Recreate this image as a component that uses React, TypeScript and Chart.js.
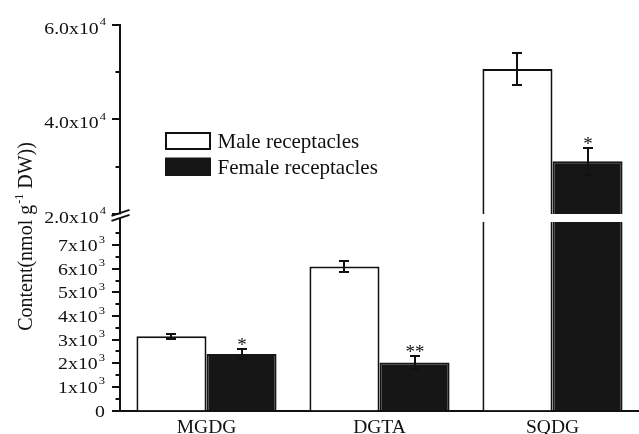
import React, { useEffect, useRef } from 'react';
import { Chart, registerables } from 'chart.js';

Chart.register(...registerables);

// ---------- data ----------
const categories = ['MGDG', 'DGTA', 'SQDG'];
const seriesNames = ['Male receptacles', 'Female receptacles'];
const maleValues = [3150, 6100, 50600];
const maleErrors = [100, 230, 3300];
const femaleValues = [2390, 2030, 31100];
const femaleErrors = [200, 290, 2800];
const femaleMarks = ['*', '**', '*'];

const lowerTickValues = [0, 1000, 2000, 3000, 4000, 5000, 6000, 7000];
const lowerTickLabels = ['0', '1x10³', '2x10³', '3x10³', '4x10³', '5x10³', '6x10³', '7x10³'];
const lowerMinorTicks = [500, 1500, 2500, 3500, 4500, 5500, 6500, 7500];
const upperTickValues = [20000, 40000, 60000];
const upperTickLabels = ['2.0x10⁴', '4.0x10⁴', '6.0x10⁴'];
const upperMinorTicks = [30000, 50000];
const yTitle = 'Content(nmol g⁻¹ DW))';

// axis ranges (lower part 0..lowerMax, upper part upperMin..upperMax)
const lowerMax = 8330;
const upperMin = 20000;
const upperMax = 60000;

// ---------- style ----------
const FONT = '"Liberation Serif", "Times New Roman", serif';
const INK = '#111111';
const FILL_DARK = '#161616';
const GAP = 8;

const SUP = '⁰¹²³⁴⁵⁶⁷⁸⁹⁻';
const NORM = '0123456789-';

function splitRuns(text: string) {
  const runs: { t: string; sup: boolean }[] = [];
  for (const ch of text) {
    const k = SUP.indexOf(ch);
    const sup = k >= 0;
    const c = sup ? NORM[k] : ch;
    const last = runs[runs.length - 1];
    if (last && last.sup === sup) last.t += c;
    else runs.push({ t: c, sup });
  }
  return runs;
}

function drawRich(
  ctx: CanvasRenderingContext2D,
  text: string,
  x: number,
  y: number,
  align: 'left' | 'right' | 'center',
  size: number,
  supSize: number,
  raise: number,
  sx: number,
  supGap: number
) {
  const runs = splitRuns(text);
  const fontFor = (sup: boolean) => `${sup ? supSize : size}px ${FONT}`;
  const widths = runs.map((r) => {
    ctx.font = fontFor(r.sup);
    return ctx.measureText(r.t).width * sx + (r.sup ? supGap : 0);
  });
  const total = widths.reduce((a, b) => a + b, 0);
  let cx = align === 'right' ? x - total : align === 'center' ? x - total / 2 : x;
  ctx.textAlign = 'left';
  ctx.textBaseline = 'alphabetic';
  runs.forEach((r, i) => {
    ctx.save();
    ctx.translate(cx + (r.sup ? supGap : 0), y - (r.sup ? raise : 0));
    ctx.scale(sx, 1);
    ctx.font = fontFor(r.sup);
    ctx.fillText(r.t, 0, 0);
    ctx.restore();
    cx += widths[i];
  });
}

const alignY = (p: number) => Math.round(p - 1) + 1;

const brokenAxisPlugin = {
  id: 'brokenAxis',
  beforeDatasetDraw(chart: any, args: any) {
    const ds = chart.data.datasets[args.index];
    const yTop = chart.scales.yTop;
    const ctx = chart.ctx as CanvasRenderingContext2D;
    ctx.save();
    ctx.beginPath();
    if (ds.yAxisID === 'y') ctx.rect(0, yTop.bottom + GAP, chart.width, chart.height);
    else ctx.rect(0, 0, chart.width, yTop.bottom);
    ctx.clip();
  },
  afterDatasetDraw(chart: any) {
    chart.ctx.restore();
  },
  afterDatasetsDraw(chart: any) {
    const ctx = chart.ctx as CanvasRenderingContext2D;
    const yLow = chart.scales.y;
    const yTop = chart.scales.yTop;
    const pick = (v: number) => (v >= upperMin ? yTop : yLow);
    const series = [
      { values: maleValues, errors: maleErrors, marks: null as string[] | null, ds: 0 },
      { values: femaleValues, errors: femaleErrors, marks: femaleMarks, ds: 1 },
    ];
    ctx.save();
    ctx.strokeStyle = INK;
    ctx.fillStyle = INK;
    ctx.lineWidth = 2;
    series.forEach((s) => {
      const meta = chart.getDatasetMeta(s.ds);
      s.values.forEach((v, i) => {
        const el = meta.data[i];
        if (!el) return;
        const x = Math.round(el.x);
        const sc = pick(v);
        const yHi = alignY(sc.getPixelForValue(v + s.errors[i]));
        const yLo = alignY(sc.getPixelForValue(v - s.errors[i]));
        ctx.beginPath();
        ctx.moveTo(x, yHi);
        ctx.lineTo(x, yLo);
        ctx.moveTo(x - 5, yHi);
        ctx.lineTo(x + 5, yHi);
        ctx.moveTo(x - 5, yLo);
        ctx.lineTo(x + 5, yLo);
        ctx.stroke();
        if (s.marks && s.marks[i]) {
          ctx.font = `19px ${FONT}`;
          ctx.textAlign = 'center';
          ctx.textBaseline = 'alphabetic';
          ctx.fillText(s.marks[i], x, yHi + 2);
        }
      });
    });
    ctx.restore();
  },
  afterDraw(chart: any) {
    const ctx = chart.ctx as CanvasRenderingContext2D;
    const yLow = chart.scales.y;
    const yTop = chart.scales.yTop;
    const area = chart.chartArea;
    const ax = area.left;
    ctx.save();
    ctx.strokeStyle = INK;
    ctx.fillStyle = INK;
    ctx.lineWidth = 2;
    const drawTicks = (scale: any, majors: number[], minors: number[]) => {
      ctx.beginPath();
      majors.forEach((v) => {
        const y = alignY(scale.getPixelForValue(v));
        ctx.moveTo(ax - 8, y);
        ctx.lineTo(ax, y);
      });
      minors.forEach((v) => {
        const y = alignY(scale.getPixelForValue(v));
        ctx.moveTo(ax - 4.5, y);
        ctx.lineTo(ax, y);
      });
      ctx.stroke();
    };
    drawTicks(yTop, upperTickValues, upperMinorTicks);
    drawTicks(yLow, lowerTickValues, lowerMinorTicks);

    // tick labels
    upperTickValues.forEach((v, i) => {
      drawRich(ctx, upperTickLabels[i], ax - 14, yTop.getPixelForValue(v) + 9, 'right', 16.5, 10.5, 8.5, 1.2, 1);
    });
    lowerTickValues.forEach((v, i) => {
      drawRich(ctx, lowerTickLabels[i], ax - 15, yLow.getPixelForValue(v) + 6, 'right', 16.5, 10.5, 8.5, 1.2, 1);
    });

    // axis break marks
    const yb = yTop.bottom;
    ctx.fillStyle = '#ffffff';
    ctx.fillRect(ax - 2, yb + 0.5, 4, 3.5);
    ctx.beginPath();
    ctx.moveTo(ax - 8.5, yb + 2);
    ctx.lineTo(ax + 9.5, yb - 4);
    ctx.moveTo(ax - 8.5, yb + 7);
    ctx.lineTo(ax + 9.5, yb + 1);
    ctx.stroke();

    // y title
    ctx.fillStyle = INK;
    ctx.save();
    ctx.translate(31.5, 236.5);
    ctx.rotate(-Math.PI / 2);
    drawRich(ctx, yTitle, 0, 0, 'center', 20, 12, 9, 1.0, 1);
    ctx.restore();

    // legend
    const lx = ax + 45;
    const ly = area.top + 107.5;
    const bw = 46;
    const bh = 18;
    ctx.fillStyle = '#ffffff';
    ctx.fillRect(lx, ly, bw, bh);
    ctx.strokeStyle = INK;
    ctx.lineWidth = 2;
    ctx.strokeRect(lx + 1, ly + 1, bw - 2, bh - 2);
    ctx.fillStyle = FILL_DARK;
    ctx.fillRect(lx, ly + 25.5, bw, bh + 0.5);
    ctx.fillStyle = INK;
    ctx.font = `21px ${FONT}`;
    ctx.textAlign = 'left';
    ctx.textBaseline = 'alphabetic';
    ctx.fillText(seriesNames[0], lx + 52.5, ly + 16);
    ctx.fillText(seriesNames[1], lx + 52.5, ly + 41.6);
    ctx.restore();
  },
};

export default function App() {
  const ref = useRef<HTMLCanvasElement | null>(null);
  useEffect(() => {
    if (!ref.current) return;
    const barCommon = {
      borderWidth: 2,
      barPercentage: 1,
      categoryPercentage: 0.81,
      borderSkipped: 'start' as const,
    };
    const chart = new Chart(ref.current, {
      type: 'bar',
      data: {
        labels: categories,
        datasets: [
          { ...barCommon, label: seriesNames[0], data: maleValues, yAxisID: 'y', stack: 'male', backgroundColor: '#ffffff', borderColor: INK },
          { ...barCommon, label: seriesNames[1], data: femaleValues, yAxisID: 'y', stack: 'female', backgroundColor: FILL_DARK, borderColor: FILL_DARK },
          { ...barCommon, label: seriesNames[0], data: maleValues.map((v) => (v >= upperMin ? v : null)), yAxisID: 'yTop', stack: 'male', backgroundColor: '#ffffff', borderColor: INK },
          { ...barCommon, label: seriesNames[1], data: femaleValues.map((v) => (v >= upperMin ? v : null)), yAxisID: 'yTop', stack: 'female', backgroundColor: FILL_DARK, borderColor: FILL_DARK },
        ] as any,
      },
      options: {
        animation: false,
        responsive: true,
        maintainAspectRatio: false,
        events: [],
        layout: { padding: { top: 24.5, left: 0, right: 0, bottom: 0 } },
        plugins: { legend: { display: false }, tooltip: { enabled: false }, title: { display: false } },
        scales: {
          x: {
            type: 'category',
            grid: { display: false, drawTicks: false },
            border: { display: true, width: 2, color: INK },
            ticks: { color: INK, font: { family: FONT, size: 19.5 }, padding: 6 },
            afterFit: (s: any) => { s.height = 23.5; },
          },
          y: {
            type: 'linear',
            position: 'left',
            stack: 'ybreak',
            stackWeight: 196.6,
            min: 0,
            max: lowerMax,
            stacked: false,
            grid: { display: false, drawTicks: false },
            border: { display: true, width: 2, color: INK },
            ticks: { display: false, stepSize: 500 },
            afterFit: (s: any) => { s.width = 120; },
          },
          yTop: {
            type: 'linear',
            position: 'left',
            stack: 'ybreak',
            stackWeight: 189.4,
            min: upperMin,
            max: upperMax,
            stacked: false,
            grid: { display: false, drawTicks: false },
            border: { display: true, width: 2, color: INK },
            ticks: { display: false, stepSize: 10000 },
            afterFit: (s: any) => { s.width = 120; },
          },
        } as any,
      },
      plugins: [brokenAxisPlugin as any],
    });
    return () => chart.destroy();
  }, []);
  return (
    <div style={{ position: 'fixed', left: 0, top: 0, width: 639, height: 434, background: '#fff' }}>
      <canvas ref={ref} />
    </div>
  );
}
